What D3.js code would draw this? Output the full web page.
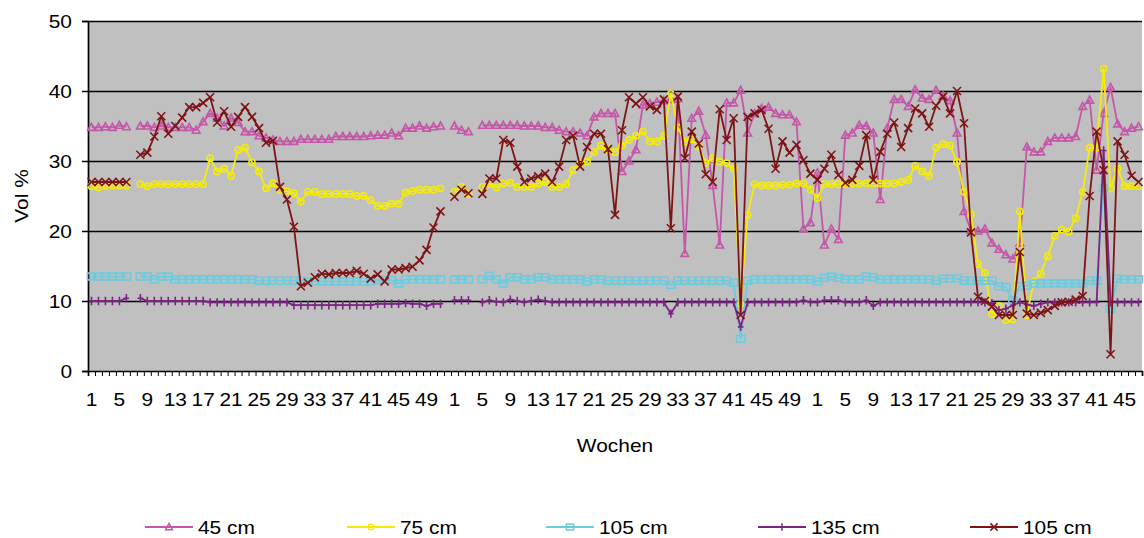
<!DOCTYPE html>
<html>
<head>
<meta charset="utf-8">
<script src="https://cdn.jsdelivr.net/npm/d3@7"></script>
<style>
  html, body { margin: 0; padding: 0; background: #fff; }
  svg { display: block; font-family: "Liberation Sans", Arial, sans-serif; }
</style>
</head>
<body>
<svg id="chart" width="1144" height="538"></svg>
<script>
// Weeks per season: three consecutive years of weekly soil-moisture readings
const weeksPerYear = [52, 52, 47];
const yTicks = [0, 10, 20, 30, 40, 50];
const labelEvery = 4;

// Volumetric water content (Vol %) per week and depth; null = no reading
const s45 = [
  34.8, 34.8, 34.9, 34.8, 35.1, 34.9, null, 35.0, 35.0, 34.8,
  35.0, 34.8, 34.8, 34.8, 34.8, 34.4, 35.6, 36.8, 36.1, 35.0,
  36.1, 35.5, 34.2, 34.2, 33.6, 33.3, 33.0, 32.8, 32.8, 32.8,
  33.1, 33.1, 33.1, 33.1, 33.1, 33.5, 33.5, 33.5, 33.5, 33.5,
  33.6, 33.7, 33.7, 34.0, 33.6, 34.7, 34.7, 35.0, 34.7, 34.9,
  35.0, null, 35.0, 34.4, 34.2, null, 35.1, 35.1, 35.1, 35.1,
  35.1, 35.1, 35.0, 35.0, 35.0, 34.8, 34.8, 34.4, 34.2, 34.2,
  34.0, 33.6, 36.3, 36.8, 36.8, 36.8, 28.5, 30.0, 31.6, 38.0,
  38.2, 38.4, 38.6, 38.8, 38.9, 16.8, 36.1, 37.1, 33.7, 26.5,
  18.0, 38.3, 38.3, 40.1, 34.0, 36.8, 37.5, 37.7, 36.8, 36.6,
  36.6, 35.6, 20.3, 21.2, 28.3, 18.0, 20.3, 18.8, 33.7, 34.0,
  35.1, 35.0, 34.0, 24.5, 34.7, 38.8, 38.8, 37.8, 40.2, 39.0,
  38.8, 40.1, 39.3, 38.6, 34.0, 22.8, 20.1, 20.0, 20.3, 18.3,
  17.4, 16.6, 16.0, 18.3, 32.0, 31.3, 31.3, 32.8, 33.3, 33.3,
  33.3, 33.5, 37.8, 38.7, 28.7, 36.8, 40.5, 35.3, 34.2, 34.7,
  34.9
];
const s75 = [
  26.4, 26.2, 26.5, 26.5, 26.5, 26.5, null, 26.7, 26.4, 26.7,
  26.7, 26.7, 26.7, 26.7, 26.7, 26.7, 26.7, 30.4, 28.5, 28.9,
  27.9, 31.6, 31.9, 29.8, 28.5, 26.1, 26.8, 25.9, 25.7, 25.4,
  24.2, 25.6, 25.6, 25.3, 25.3, 25.3, 25.3, 25.3, 25.0, 25.0,
  24.4, 23.6, 23.6, 23.9, 23.9, 25.5, 25.7, 25.9, 25.9, 25.9,
  26.1, null, 25.6, 26.3, 25.3, null, 26.3, 26.7, 26.2, 26.8,
  26.9, 26.3, 26.3, 26.3, 26.8, 27.0, 26.3, 26.3, 26.7, 28.7,
  29.7, 29.9, 31.3, 32.2, 31.6, 31.3, 32.2, 33.0, 33.6, 34.2,
  32.8, 32.8, 33.6, 39.6, 34.8, 32.8, 33.1, 32.1, 29.7, 30.4,
  29.9, 29.7, 28.9, 9.6, 22.3, 26.7, 26.5, 26.5, 26.5, 26.6,
  26.6, 26.8, 26.8, 25.9, 24.7, 26.7, 26.7, 26.7, 26.7, 26.8,
  26.8, 26.8, 26.8, 26.8, 26.8, 26.8, 27.0, 27.3, 29.3, 28.5,
  27.9, 31.9, 32.4, 32.2, 29.9, 25.6, 22.4, 15.3, 14.0, 8.1,
  9.3, 7.3, 7.4, 22.8, 8.0, 12.8, 13.9, 16.4, 19.3, 20.2,
  19.9, 21.8, 25.6, 31.9, 31.9, 43.2, 26.1, 28.9, 26.4, 26.4,
  26.4
];
const s105 = [
  13.5, 13.5, 13.5, 13.5, 13.5, 13.5, null, 13.5, 13.5, 13.1,
  13.5, 13.5, 13.1, 13.1, 13.1, 13.1, 13.1, 13.1, 13.1, 13.1,
  13.1, 13.1, 13.1, 13.1, 12.9, 12.9, 12.9, 12.9, 12.9, 12.9,
  12.9, 12.8, 12.8, 12.8, 12.8, 12.8, 12.8, 12.8, 12.8, 12.8,
  12.8, 13.0, 13.0, 13.0, 12.5, 13.1, 13.1, 13.1, 13.1, 13.1,
  13.1, null, 13.1, 13.1, 13.1, null, 13.1, 13.6, 13.1, 12.5,
  13.4, 13.4, 13.1, 13.1, 13.4, 13.4, 13.1, 13.1, 13.1, 13.1,
  13.1, 12.8, 13.1, 13.1, 12.9, 12.9, 12.9, 12.9, 12.9, 12.9,
  12.9, 12.9, 12.9, 12.3, 12.9, 12.9, 12.9, 12.9, 12.9, 12.9,
  12.9, 12.9, 12.6, 4.6, 12.9, 13.1, 13.1, 13.1, 13.1, 13.1,
  13.1, 13.1, 13.1, 13.1, 12.8, 13.3, 13.5, 13.3, 13.1, 13.1,
  13.1, 13.5, 13.4, 13.1, 13.1, 13.1, 13.1, 13.1, 13.1, 13.1,
  13.1, 12.9, 13.2, 13.2, 13.2, 12.9, 12.9, 12.9, 12.9, 12.9,
  12.1, 12.0, 10.1, 12.1, 12.2, 12.5, 12.5, 12.5, 12.5, 12.5,
  12.5, 12.5, 12.5, 12.9, 12.9, 26.1, 8.9, 13.2, 13.1, 13.1,
  13.1
];
const s135 = [
  10.0, 10.0, 10.0, 10.0, 10.0, 10.4, null, 10.4, 10.0, 10.0,
  10.0, 10.0, 10.0, 10.0, 10.0, 10.0, 10.0, 9.8, 9.8, 9.8,
  9.8, 9.8, 9.8, 9.8, 9.8, 9.8, 9.8, 9.8, 9.8, 9.4,
  9.4, 9.4, 9.4, 9.4, 9.4, 9.4, 9.4, 9.4, 9.4, 9.4,
  9.4, 9.6, 9.6, 9.6, 9.6, 9.7, 9.6, 9.6, 9.3, 9.6,
  9.6, null, 10.1, 10.1, 10.1, null, 9.8, 10.1, 9.9, 9.8,
  10.2, 10.0, 9.8, 10.0, 10.2, 10.0, 9.8, 9.8, 9.8, 9.8,
  9.8, 9.8, 9.8, 9.8, 9.8, 9.8, 9.8, 9.8, 9.8, 9.8,
  9.8, 9.8, 9.8, 8.2, 9.8, 9.8, 9.8, 9.8, 9.8, 9.8,
  9.8, 9.8, 9.8, 6.3, 9.8, 9.8, 9.8, 9.8, 9.8, 9.8,
  9.8, 9.8, 10.1, 9.8, 9.8, 10.1, 10.1, 10.1, 9.8, 9.8,
  9.8, 10.1, 9.3, 9.8, 9.8, 9.8, 9.8, 9.8, 9.8, 9.8,
  9.8, 9.8, 9.8, 9.8, 9.8, 9.8, 9.8, 9.8, 9.8, 9.7,
  8.7, 8.9, 9.4, 9.8, 9.5, 9.3, 9.6, 9.8, 9.8, 9.8,
  9.8, 9.8, 9.8, 9.8, 9.8, 31.5, 9.8, 9.8, 9.8, 9.8,
  9.8
];
const s105b = [
  27.0, 27.0, 27.0, 27.0, 27.0, 27.0, null, 30.9, 31.2, 33.5,
  36.4, 33.9, 35.0, 36.2, 37.7, 37.7, 38.3, 39.1, 35.5, 37.1,
  34.9, 36.3, 37.7, 36.3, 34.7, 32.6, 32.9, 26.3, 24.5, 20.6,
  12.1, 12.6, 13.4, 13.9, 13.8, 14.0, 14.0, 14.0, 14.3, 13.9,
  13.2, 13.8, 12.8, 14.5, 14.5, 14.7, 14.9, 15.8, 17.3, 20.5,
  22.8, null, 24.9, 25.9, 25.4, null, 25.3, 27.5, 27.5, 33.0,
  32.6, 29.2, 27.0, 27.5, 27.8, 28.2, 27.0, 29.2, 33.0, 33.6,
  29.2, 32.0, 33.9, 33.9, 31.7, 22.3, 34.4, 39.1, 38.2, 39.1,
  37.8, 37.3, 38.8, 20.4, 39.2, 30.4, 34.2, 32.5, 28.1, 27.0,
  37.4, 33.0, 36.1, 8.0, 36.3, 36.8, 37.3, 34.6, 28.9, 32.8,
  31.2, 32.3, 30.1, 28.2, 27.3, 28.9, 30.9, 28.0, 26.9, 27.3,
  29.3, 33.7, 27.3, 31.3, 33.9, 35.5, 32.0, 34.7, 37.5, 36.8,
  34.9, 37.9, 39.2, 36.8, 40.0, 35.4, 19.8, 10.6, 10.0, 9.2,
  8.0, 8.0, 8.0, 17.0, 8.2, 8.0, 8.3, 8.7, 9.3, 9.8,
  9.9, 10.2, 10.7, 25.0, 34.2, 28.7, 2.4, 32.8, 30.9, 27.9,
  27.0
];

const seriesNames = ["45 cm", "75 cm", "105 cm", "135 cm", "105 cm"];
const seriesValues = [s45, s75, s105, s135, s105b];
const seriesColors = ["#C457A8", "#F4EC08", "#6ECBDD", "#7A2582", "#7E1416"];
const seriesMarkers = ["triangle", "circle", "square", "plus", "cross"];

// Category list: week number inside each year, in order
const categories = [];
weeksPerYear.forEach((n, yr) => {
  for (let w = 1; w <= n; w++) categories.push({ idx: categories.length, year: yr, week: w });
});

const svg = d3.select("#chart");
const plot = { left: 88, right: 1142, top: 21, bottom: 371 };
const FONT = 19;
const WIDEN = 1.1; // the chart text runs slightly wide

// stretch a text element horizontally about its anchor
function widen(sel) {
  sel.each(function () {
    const len = this.getComputedTextLength();
    if (len > 0) {
      d3.select(this).attr("textLength", len * WIDEN).attr("lengthAdjust", "spacingAndGlyphs");
    }
  });
}

const x = d3.scaleBand()
  .domain(categories.map(c => c.idx))
  .range([plot.left, plot.right])
  .paddingInner(0).paddingOuter(0);
const xEdge = d3.scaleLinear().domain([0, categories.length]).range([plot.left, plot.right]);
const y = d3.scaleLinear().domain([0, 50]).range([plot.bottom, plot.top]);
const cx = i => x(i) + x.bandwidth() / 2;

// plot area
svg.append("rect")
  .attr("x", plot.left).attr("y", plot.top)
  .attr("width", plot.right - plot.left).attr("height", plot.bottom - plot.top)
  .attr("fill", "#C0C0C0");

// horizontal gridlines
svg.append("g")
  .attr("transform", `translate(${plot.left},0)`)
  .call(d3.axisLeft(y).tickValues(yTicks.filter(v => v > 0)).tickSize(-(plot.right - plot.left)).tickFormat(""))
  .call(g => g.select(".domain").remove())
  .call(g => g.selectAll("line").attr("stroke", "#000").attr("stroke-width", 1.7));

// y axis
const yAxis = svg.append("g")
  .attr("transform", `translate(${plot.left},0)`)
  .call(d3.axisLeft(y).tickValues(yTicks).tickSize(6).tickPadding(10).tickFormat(d3.format("d")));
yAxis.select(".domain").attr("stroke", "#000").attr("stroke-width", 1.7);
yAxis.selectAll("line").attr("stroke", "#000").attr("stroke-width", 1.5);
yAxis.selectAll("text").attr("font-size", FONT).attr("fill", "#000")
  .attr("font-family", "Liberation Sans, Arial, sans-serif").call(widen);

// x axis: a tick mark between every pair of weeks
const xTicks = svg.append("g")
  .attr("transform", `translate(0,${plot.bottom})`)
  .call(d3.axisBottom(xEdge).tickValues(d3.range(categories.length + 1)).tickSize(5).tickFormat(""));
xTicks.select(".domain").attr("stroke", "#000").attr("stroke-width", 1.7);
xTicks.selectAll("line").attr("stroke", "#000").attr("stroke-width", 1);

// x labels: every fourth week
const xLabels = svg.append("g")
  .attr("transform", `translate(0,${plot.bottom})`)
  .call(d3.axisBottom(x)
    .tickValues(categories.filter(c => c.idx % labelEvery === 0).map(c => c.idx))
    .tickSize(0).tickPadding(22)
    .tickFormat(i => categories[i].week));
xLabels.select(".domain").remove();
xLabels.selectAll("text").attr("font-size", FONT).attr("fill", "#000")
  .attr("font-family", "Liberation Sans, Arial, sans-serif").call(widen);

// axis titles
svg.append("text")
  .attr("x", 615).attr("y", 452)
  .attr("text-anchor", "middle").attr("font-size", FONT)
  .text("Wochen").call(widen);
svg.append("text")
  .attr("transform", "translate(28,196) rotate(-90)")
  .attr("text-anchor", "middle").attr("font-size", FONT)
  .text("Vol %").call(widen);

// marker shapes
function markerPath(type, s) {
  switch (type) {
    case "triangle": return `M0,${-s}L${s * 0.95},${s * 0.75}L${-s * 0.95},${s * 0.75}Z`;
    case "circle": return d3.symbol(d3.symbolCircle, Math.PI * (s * 0.78) ** 2)();
    case "square": return `M${-s},${-s * 0.85}H${s}V${s * 0.85}H${-s}Z`;
    case "plus": return `M0,${-s * 1.05}V${s * 1.05}M${-s * 0.7},0H${s * 0.7}`;
    case "cross": return `M${-s},${-s}L${s},${s}M${-s},${s}L${s},${-s}`;
  }
}

// series lines and markers, first series drawn first
const line = d3.line()
  .defined(d => d.v !== null)
  .x(d => cx(d.i))
  .y(d => y(d.v));

seriesValues.forEach((vals, k) => {
  const pts = vals.map((v, i) => ({ i, v }));
  const g = svg.append("g");
  g.append("path")
    .datum(pts)
    .attr("fill", "none")
    .attr("stroke", seriesColors[k])
    .attr("stroke-width", 1.8)
    .attr("stroke-linejoin", "round")
    .attr("d", line);
  g.selectAll("path.m")
    .data(pts.filter(p => p.v !== null))
    .join("path")
    .attr("class", "m")
    .attr("transform", p => `translate(${cx(p.i)},${y(p.v)})`)
    .attr("d", markerPath(seriesMarkers[k], 4))
    .attr("fill", "none")
    .attr("stroke", seriesColors[k])
    .attr("stroke-width", 1.6);
});

// legend
const legendX = [145, 347, 546, 758, 970];
const legendY = 527;
seriesNames.forEach((name, k) => {
  const g = svg.append("g").attr("transform", `translate(${legendX[k]},${legendY})`);
  g.append("line").attr("x1", 0).attr("x2", 48).attr("y1", 0).attr("y2", 0)
    .attr("stroke", seriesColors[k]).attr("stroke-width", 2);
  g.append("path").attr("transform", "translate(24,0)")
    .attr("d", markerPath(seriesMarkers[k], 3.6))
    .attr("fill", "none").attr("stroke", seriesColors[k]).attr("stroke-width", 1.5);
  g.append("text").attr("x", 53).attr("y", 6.5).attr("font-size", FONT).text(name).call(widen);
});
</script>
</body>
</html>
